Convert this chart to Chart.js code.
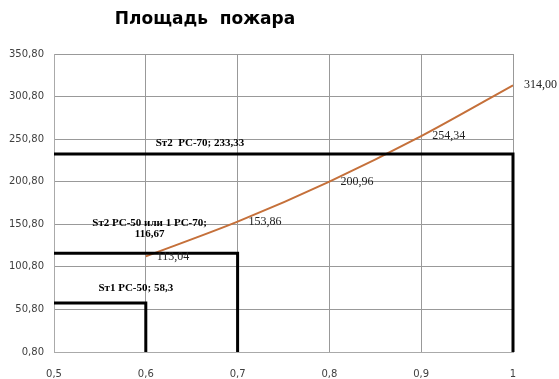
<!DOCTYPE html>
<html lang="ru">
<head>
<meta charset="UTF-8">
<title>Площадь пожара</title>
<script src="https://cdn.jsdelivr.net/npm/chart.js"></script>
<style>
  html, body { margin: 0; padding: 0; background: #fff; }
  #wrap { width: 559px; height: 379px; position: relative; }
</style>
</head>
<body>
<div id="wrap"><canvas id="fireChart"></canvas></div>
<script>
// fire area curve (radius -> area)
const radius = [0.6, 0.7, 0.8, 0.9, 1.0];
const area = [113.04, 153.86, 200.96, 254.34, 314.00];

// extinguishing capacity steps
const stepNames = ['Sт1 PC-50; 58,3', 'Sт2 PC-50 или 1 PC-70;\n116,67', 'Sт2  PC-70; 233,33'];
const stepX = [0.6, 0.7, 1.0];
const stepY = [58.3, 116.67, 233.33];

const yTicks = [0.8, 50.8, 100.8, 150.8, 200.8, 250.8, 300.8, 350.8];
const xTicks = [0.5, 0.6, 0.7, 0.8, 0.9, 1.0];

const fmt2 = v => v.toFixed(2).replace('.', ',');

const stepSets = stepX.map((sx, i) => ({
    label: stepNames[i],
    data: [{x: 0.5, y: stepY[i]}, {x: sx, y: stepY[i]}, {x: sx, y: yTicks[0]}],
    borderColor: '#000',
    borderWidth: 3,
    pointRadius: 0,
    fill: false,
    clip: false
}));

// offsets for the box captions (px, relative to the end of the top edge)
const capOffsets = [[-10, -15], [-88, -30], [-313, -11]];

const annotate = {
    id: 'annotate',
    afterDatasetsDraw(chart) {
        const ctx = chart.ctx;
        const xs = chart.scales.x, ys = chart.scales.y;
        ctx.save();
        // title
        ctx.font = 'bold 17px "DejaVu Sans"';
        ctx.fillStyle = '#000';
        ctx.textAlign = 'center';
        ctx.textBaseline = 'middle';
        ctx.fillText('Площадь  пожара', 205, 20);

        // curve labels
        ctx.font = '12px "Liberation Serif"';
        ctx.textAlign = 'left';
        ctx.fillStyle = '#222';
        radius.forEach((r, i) => {
            ctx.fillText(fmt2(area[i]), xs.getPixelForValue(r) + 11, ys.getPixelForValue(area[i]));
        });

        // step captions
        ctx.font = 'bold 11px "Liberation Serif"';
        ctx.fillStyle = '#000';
        ctx.textAlign = 'center';
        stepNames.forEach((name, i) => {
            const px = xs.getPixelForValue(stepX[i]) + capOffsets[i][0];
            const py = ys.getPixelForValue(stepY[i]) + capOffsets[i][1];
            const lines = name.split('\n');
            lines.forEach((ln, k) => ctx.fillText(ln, px, py + k * 11));
        });
        ctx.restore();
    }
};

new Chart(document.getElementById('fireChart'), {
    type: 'line',
    data: {
        datasets: [
            ...stepSets,
            {
                label: 'Площадь пожара',
                data: radius.map((r, i) => ({x: r, y: area[i]})),
                borderColor: '#c5703a',
                borderWidth: 2,
                pointRadius: 0,
                tension: 0.3,
                fill: false
            }
        ]
    },
    options: {
        responsive: true,
        maintainAspectRatio: false,
        animation: false,
        layout: { padding: { top: 54, right: 46, left: 0, bottom: 0 } },
        plugins: {
            legend: { display: false },
            tooltip: { enabled: false }
        },
        scales: {
            x: {
                type: 'linear',
                min: xTicks[0],
                max: xTicks[xTicks.length - 1],
                afterBuildTicks: s => { s.ticks = xTicks.map(v => ({value: v})); },
                afterFit: s => { s.height = 27; },
                ticks: {
                    padding: 16,
                    color: '#404040',
                    font: { family: 'DejaVu Sans', size: 10 },
                    callback: v => String(v).replace('.', ',')
                },
                grid: { color: '#999', drawTicks: false },
                border: { color: '#aaa' }
            },
            y: {
                min: yTicks[0],
                max: yTicks[yTicks.length - 1],
                afterBuildTicks: s => { s.ticks = yTicks.map(v => ({value: v})); },
                afterFit: s => { s.width = 54; },
                ticks: {
                    padding: 10,
                    color: '#404040',
                    font: { family: 'DejaVu Sans', size: 10 },
                    callback: v => fmt2(v)
                },
                grid: { color: '#999', drawTicks: false },
                border: { color: '#aaa' }
            }
        }
    },
    plugins: [annotate]
});
</script>
</body>
</html>
